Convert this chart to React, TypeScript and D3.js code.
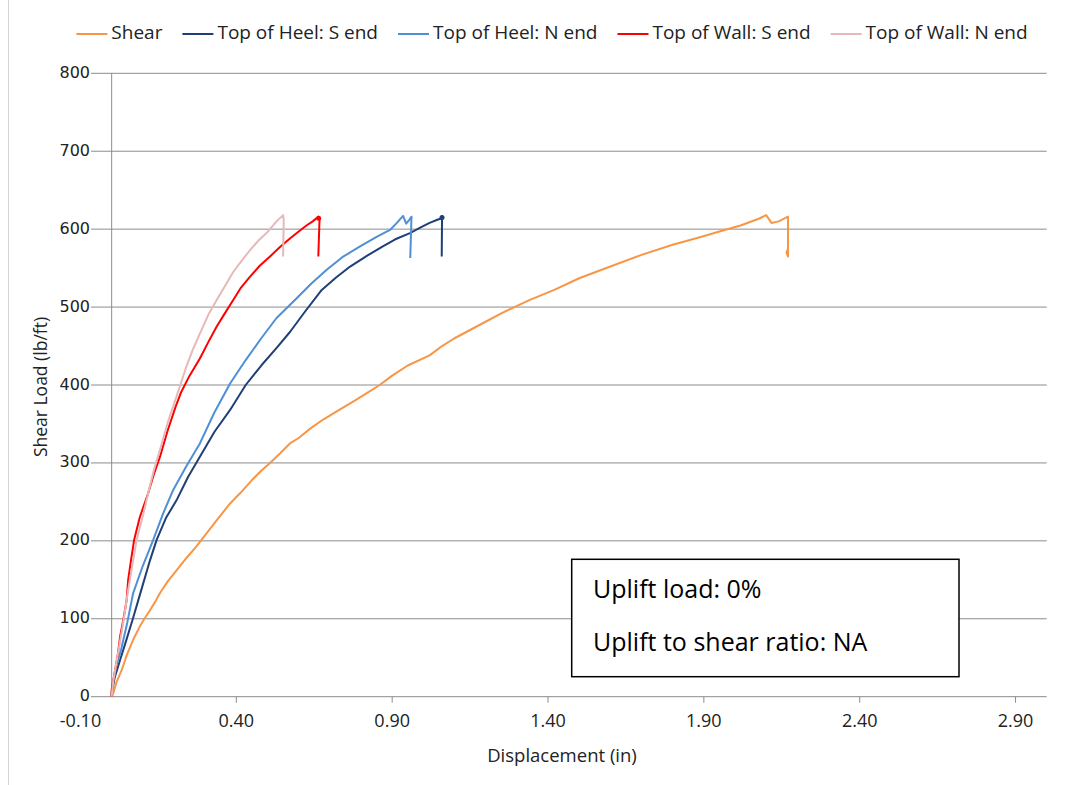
import React, { useEffect, useRef } from 'react';
import * as d3 from 'd3';

// displacement (in), shear load (lb/ft)
const shear = [
  [0, 0], [0.005, 4], [0.015, 18], [0.032, 34], [0.05, 55], [0.069, 73], [0.09, 90],
  [0.105, 100], [0.123, 111], [0.14, 122], [0.155, 133], [0.18, 148], [0.21, 163],
  [0.24, 178], [0.27, 192], [0.305, 210], [0.34, 228], [0.38, 248], [0.412, 261],
  [0.45, 278], [0.48, 290], [0.508, 300], [0.54, 312], [0.572, 325], [0.6, 332],
  [0.64, 345], [0.68, 356], [0.73, 368], [0.78, 380], [0.82, 390], [0.86, 400],
  [0.9, 412], [0.95, 425], [1.02, 438], [1.06, 450], [1.1, 460], [1.18, 477],
  [1.25, 492], [1.34, 509], [1.42, 522], [1.5, 537], [1.6, 552], [1.7, 567],
  [1.8, 580], [1.89, 590], [1.95, 597], [2.02, 605], [2.08, 614], [2.1, 618],
  [2.117, 608], [2.14, 610], [2.17, 616], [2.17, 565], [2.165, 570], [2.17, 575],
];
const heelS = [
  [0, 0], [0, 5], [0.01, 25], [0.027, 47], [0.045, 70], [0.068, 100], [0.09, 130],
  [0.123, 175], [0.144, 201], [0.175, 230], [0.208, 252], [0.245, 282], [0.283, 308],
  [0.33, 340], [0.38, 368], [0.43, 400], [0.48, 425], [0.53, 448], [0.572, 468],
  [0.62, 494], [0.674, 522], [0.72, 538], [0.765, 552], [0.82, 566], [0.87, 578],
  [0.91, 587], [0.957, 595], [0.99, 602], [1.02, 608], [1.045, 612], [1.059, 614],
  [1.06, 617], [1.059, 565],
];
const heelN = [
  [0, 0], [0.003, 15], [0.015, 40], [0.03, 60], [0.05, 95], [0.069, 133], [0.1, 168],
  [0.133, 201], [0.165, 235], [0.197, 265], [0.24, 296], [0.283, 325], [0.33, 365],
  [0.38, 402], [0.43, 432], [0.48, 460], [0.529, 486], [0.588, 509], [0.64, 530],
  [0.69, 548], [0.74, 564], [0.797, 578], [0.85, 590], [0.893, 599], [0.915, 608],
  [0.935, 617], [0.945, 607], [0.955, 612], [0.962, 616], [0.958, 563],
];
const wallS = [
  [0, 0], [0, 9], [0.011, 34], [0.02, 55], [0.027, 77], [0.038, 100], [0.048, 124],
  [0.053, 150], [0.062, 175], [0.072, 201], [0.09, 230], [0.117, 261], [0.135, 285],
  [0.155, 308], [0.18, 342], [0.205, 372], [0.222, 390], [0.25, 412], [0.283, 434],
  [0.31, 455], [0.337, 475], [0.36, 490], [0.39, 509], [0.415, 525], [0.444, 539],
  [0.475, 553], [0.508, 565], [0.54, 577], [0.572, 588], [0.6, 597], [0.626, 605],
  [0.645, 610], [0.663, 616], [0.667, 614], [0.663, 565],
];
const wallN = [
  [0, 0], [0.005, 20], [0.02, 55], [0.035, 90], [0.053, 137], [0.08, 201], [0.1, 232],
  [0.117, 261], [0.135, 290], [0.155, 317], [0.18, 352], [0.208, 385], [0.24, 424],
  [0.26, 445], [0.283, 466], [0.31, 490], [0.337, 509], [0.365, 528], [0.39, 545],
  [0.418, 560], [0.444, 573], [0.47, 585], [0.497, 595], [0.529, 610], [0.55, 618],
  [0.552, 612], [0.55, 565],
];

const seriesNames = ['Shear', 'Top of Heel: S end', 'Top of Heel: N end', 'Top of Wall: S end', 'Top of Wall: N end'];
const seriesData = [shear, heelS, heelN, wallS, wallN];
const seriesColors = ['#F79646', '#1F3F77', '#4F8FD6', '#FF0000', '#E6B9B8'];

const xTicks = [-0.1, 0.4, 0.9, 1.4, 1.9, 2.4, 2.9];
const yTicks = [0, 100, 200, 300, 400, 500, 600, 700, 800];
const noteLines = ['Uplift load: 0%', 'Uplift to shear ratio: NA'];

const FONT = '"Open Sans", sans-serif';
const NUM_FONT = '"DejaVu Sans", sans-serif';

export default function App() {
  const ref = useRef<SVGSVGElement>(null);

  useEffect(() => {
    const svg = d3.select(ref.current);
    svg.selectAll('*').remove();

    const x = d3.scaleLinear().domain([-0.1, 3.0]).range([80.5, 1046.7]);
    const y = d3.scaleLinear().domain([0, 800]).range([696.7, 73.3]);

    // left border of chart area
    svg.append('line')
      .attr('x1', 8.5).attr('x2', 8.5).attr('y1', 0).attr('y2', 785)
      .attr('stroke', '#d4d4d4');

    // gridlines
    svg.append('g').selectAll('line').data(yTicks).enter().append('line')
      .attr('x1', 91).attr('x2', x(3.0))
      .attr('y1', d => y(d)).attr('y2', d => y(d))
      .attr('stroke', '#8c8c8c').attr('stroke-width', 1);

    // y axis line
    svg.append('line')
      .attr('x1', x(0)).attr('x2', x(0)).attr('y1', y(800)).attr('y2', y(0))
      .attr('stroke', '#8c8c8c');

    // x tick marks
    svg.append('g').selectAll('line').data(xTicks.slice(1)).enter().append('line')
      .attr('x1', d => x(d)).attr('x2', d => x(d))
      .attr('y1', y(0)).attr('y2', y(0) + 6)
      .attr('stroke', '#8c8c8c');

    // tick labels
    svg.append('g').selectAll('text').data(yTicks).enter().append('text')
      .attr('x', 90).attr('y', d => y(d))
      .attr('text-anchor', 'end').attr('dominant-baseline', 'middle')
      .attr('font-family', NUM_FONT).attr('font-size', 16).attr('fill', '#222')
      .text(d => d);

    svg.append('g').selectAll('text').data(xTicks).enter().append('text')
      .attr('x', d => x(d)).attr('y', 722)
      .attr('text-anchor', 'middle').attr('dominant-baseline', 'middle')
      .attr('font-family', FONT).attr('font-size', 18).attr('fill', '#222')
      .text(d => d.toFixed(2));

    // axis titles
    svg.append('text')
      .attr('x', 562).attr('y', 757)
      .attr('text-anchor', 'middle').attr('dominant-baseline', 'middle')
      .attr('font-family', FONT).attr('font-size', 18.5).attr('fill', '#222')
      .text('Displacement  (in)');

    svg.append('text')
      .attr('transform', 'translate(42, 387) rotate(-90)')
      .attr('text-anchor', 'middle').attr('dominant-baseline', 'middle')
      .attr('font-family', FONT).attr('font-size', 17.5).attr('fill', '#222')
      .text('Shear Load (lb/ft)');

    // series
    const line = d3.line<number[]>().x(d => x(d[0])).y(d => y(d[1]));
    seriesData.forEach((data, i) => {
      svg.append('path')
        .datum(data)
        .attr('d', line)
        .attr('fill', 'none')
        .attr('stroke', seriesColors[i])
        .attr('stroke-width', 2)
        .attr('stroke-linejoin', 'round');
    });

    // small blobs at peak of heel S end and wall S end
    svg.append('circle')
      .attr('cx', x(1.06)).attr('cy', y(615)).attr('r', 2.5)
      .attr('fill', seriesColors[1]);
    svg.append('circle')
      .attr('cx', x(0.664)).attr('cy', y(614)).attr('r', 2.5)
      .attr('fill', seriesColors[3]);

    // note box
    const note = svg.append('g');
    note.append('rect')
      .attr('x', 571.7).attr('y', 559.3).attr('width', 387.3).attr('height', 117.4)
      .attr('fill', '#fff').attr('stroke', '#000').attr('stroke-width', 1.5);
    note.selectAll('text').data(noteLines).enter().append('text')
      .attr('x', 593).attr('y', (d, i) => 598 + i * 53)
      .attr('font-family', FONT).attr('font-size', 25).attr('fill', '#000')
      .text(d => d);

    // legend
    const legend = svg.append('g');
    let cx = 0;
    seriesNames.forEach((name, i) => {
      const item = legend.append('g').attr('transform', `translate(${cx},0)`);
      item.append('line')
        .attr('x1', 0).attr('x2', 31).attr('y1', 34).attr('y2', 34)
        .attr('stroke', seriesColors[i]).attr('stroke-width', 2);
      const t = item.append('text')
        .attr('x', 35).attr('y', 34).attr('dominant-baseline', 'middle')
        .attr('font-family', FONT).attr('font-size', 19).attr('fill', '#222')
        .text(name);
      const w = (t.node() as SVGTextElement).getComputedTextLength();
      cx += 35 + w + 20;
    });
    const total = cx - 20;
    legend.attr('transform', `translate(${552 - total / 2},0)`);
  }, []);

  return (
    <svg
      ref={ref}
      width={1071}
      height={785}
      style={{ position: 'absolute', left: 0, top: 0, background: '#fff' }}
    />
  );
}
